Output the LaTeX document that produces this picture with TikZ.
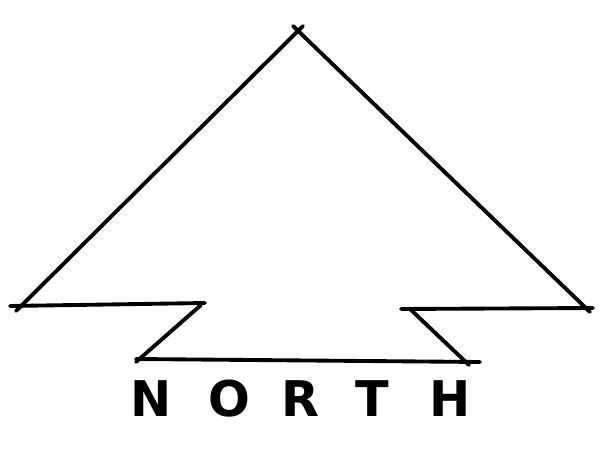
\documentclass[tikz,border=0pt]{standalone}
\usepackage{fontspec}
\setmainfont{DejaVu Sans}

\begin{document}
\begin{tikzpicture}[x=0.02cm, y=-0.02cm, line cap=round, line join=round]

        % ---------------------------------------------------
        % 0. Frame (605 x 452)
        % ---------------------------------------------------
        \useasboundingbox (0, 0) rectangle (605, 452);

        % ---------------------------------------------------
        % 1. Arrow head (two sloping sides, crossing at the tip)
        % ---------------------------------------------------
        \coordinate (apex) at (298, 31);
        \coordinate (leftcorner) at (16, 311);
        \coordinate (rightcorner) at (590, 312);

        \draw[line width=2.2pt] (303, 26) -- (leftcorner);
        \draw[line width=2.2pt] (293, 26) -- (rightcorner);

        % ---------------------------------------------------
        % 2. Base with the two notches
        % ---------------------------------------------------
        % Left shoulder and notch
        \draw[line width=2.2pt] (10, 306) -- (205, 303);
        \draw[line width=2.2pt] (201, 305) -- (136, 362);

        % Bottom line
        \draw[line width=2.2pt] (136, 359) -- (480, 362);

        % Right notch and shoulder
        \draw[line width=2.2pt] (469, 365) -- (410, 309);
        \draw[line width=2.2pt] (401, 309) -- (593, 308);

        % ---------------------------------------------------
        % 3. Label
        % ---------------------------------------------------
        \foreach \letter/\x in {N/151, O/229, R/300, T/372, H/450}
            \node[font=\fontsize{28}{30}\selectfont\bfseries, inner sep=0pt] (label\letter) at (\x, 399) {\letter};

    \end{tikzpicture}
\end{document}
